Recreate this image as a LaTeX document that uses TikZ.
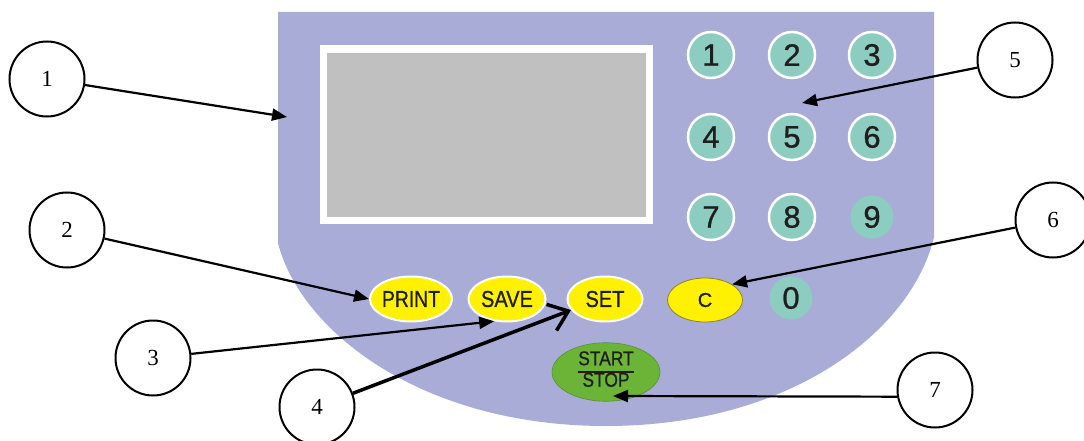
\documentclass[tikz,border=0pt]{standalone}
\usepackage{fontspec}
\setmainfont{Liberation Serif}
\newfontfamily\keyfont[FakeBold=0.8]{Liberation Sans}
\usetikzlibrary{shapes.geometric,arrows.meta}
\definecolor{panelblue}{RGB}{170,172,216}
\definecolor{screengray}{RGB}{192,192,192}
\definecolor{keyteal}{RGB}{141,204,192}
\definecolor{keyyellow}{RGB}{255,241,0}
\definecolor{keygreen}{RGB}{107,180,56}
\definecolor{keyink}{RGB}{30,30,30}
\definecolor{clearedge}{RGB}{140,130,40}
\newcommand{\narrow}[1]{\scalebox{0.87}[1]{#1}}
\tikzset{
  numkey/.style={circle,fill=keyteal,draw=white,line width=2.5pt,minimum size=46pt,inner sep=0pt,
    text=keyink,font=\keyfont\fontsize{31}{31}\selectfont},
  flatkey/.style={numkey,draw=none,minimum size=43pt},
  softkey/.style={ellipse,fill=keyyellow,draw=white,line width=2pt,minimum width=77pt,minimum height=45pt,
    inner sep=0pt,text=keyink,font=\keyfont\fontsize{23}{23}\selectfont},
  callout/.style={circle,draw,line width=2pt,minimum size=75pt,inner sep=0pt,font=\fontsize{23}{23}\selectfont},
  callarrow/.style={line width=2.2pt,-{Triangle[length=15pt,width=12pt]}}
}
\begin{document}
\begin{tikzpicture}[x=1pt,y=-1pt]
\useasboundingbox (0,0) rectangle (1084,441);
\fill[panelblue] (278,12) -- (934,12) -- (934,237) .. controls (912,330) and (792,426) .. (606,426)
  .. controls (420,426) and (300,330) .. (278,243) -- cycle;
\fill[white] (320,45) rectangle (653,224);
\fill[screengray] (327,53) rectangle (646,217);
\foreach \n/\x/\y in {1/711/55,2/792/55,3/872/55,4/711/137,5/792/137,6/872/137,7/711/217,8/792/217}
  \node[numkey] (k\n) at (\x,\y) {\n};
\node[flatkey] (k9) at (872,217) {9};
\node[flatkey] (k0) at (791,298) {0};
\node[softkey] (print) at (411,299) {\scalebox{0.84}[1]{PRINT}};
\node[softkey] (save) at (507,299) {\narrow{SAVE}};
\node[softkey,minimum width=75pt] (set) at (605,299) {\narrow{SET}};
\node[softkey,draw=clearedge,line width=0.8pt,minimum width=75pt,minimum height=44pt,font=\keyfont\fontsize{20}{20}\selectfont] (clear) at (705,300) {C};
\node[ellipse,fill=keygreen,draw=keygreen!80!black,line width=0.6pt,minimum width=108pt,minimum height=58pt,inner sep=0pt,
  text=keyink,font=\keyfont\fontsize{20}{21}\selectfont] (startstop) at (606,372)
  {\setlength\arrayrulewidth{1.5pt}\renewcommand\arraystretch{0.95}\begin{tabular}{@{}c@{}}\narrow{START}\\\hline \narrow{STOP}\end{tabular}};
\node[callout] (c1) at (47,79) {1};
\node[callout] (c2) at (67,230) {2};
\node[callout] (c3) at (153,358) {3};
\node[callout] (c4) at (317,407) {4};
\node[callout] (c5) at (1015,60) {5};
\node[callout] (c6) at (1053,220) {6};
\node[callout] (c7) at (935,390) {7};
\coordinate (panelpt) at (287,117);
\coordinate (keypt) at (802,103);
\coordinate (stoppt) at (613,396);
\draw[callarrow] (c1) -- (panelpt);
\draw[callarrow] (c2) -- (print.west);
\draw[callarrow] (c3) -- (save.240);
\draw[line width=3.5pt,-{Straight Barb[length=18pt,width=28pt]}] (c4) -- (set.198);
\draw[callarrow] (c5) -- (keypt);
\draw[callarrow] (c6) -- (clear.30);
\draw[callarrow] (c7.190) -- (stoppt);
\end{tikzpicture}
\end{document}
